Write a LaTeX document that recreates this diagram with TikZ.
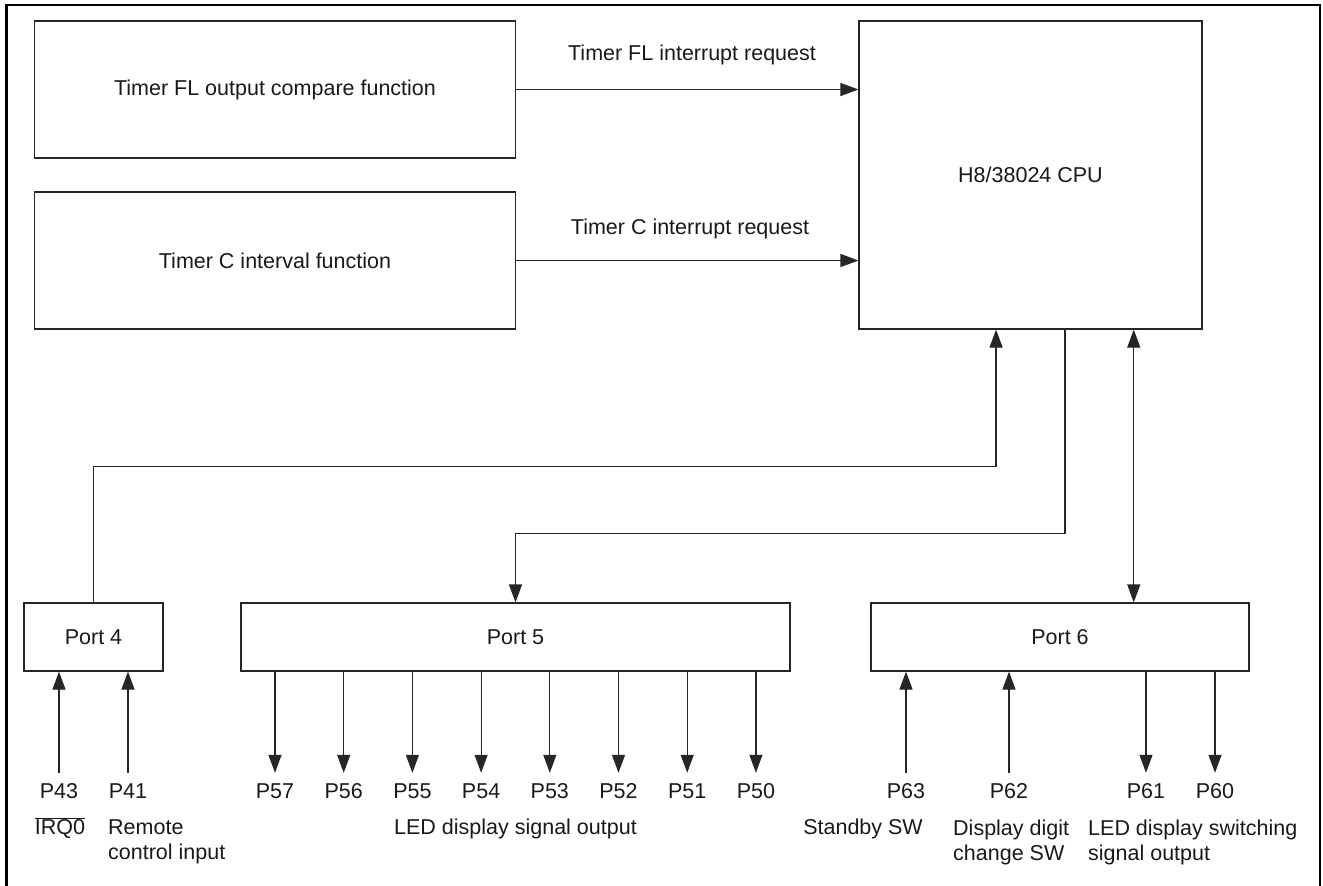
\documentclass[tikz,border=0pt]{standalone}
\usepackage{fontspec}
\setmainfont{Liberation Sans}
\usetikzlibrary{arrows.meta,calc}
\begin{document}
\begin{tikzpicture}[x=1pt,y=-1pt,
  font=\fontsize{21.5pt}{25pt}\selectfont,
  every node/.style={text=black!90},
  box/.style={draw=black!85, line width=1.2pt, rectangle, inner sep=0pt},
  wire/.style={draw=black!85, line width=1.2pt},
  arr/.style={wire, -{Triangle[length=18pt,width=13pt]}},
  dblarr/.style={wire, {Triangle[length=18pt,width=13pt]}-{Triangle[length=18pt,width=13pt]}},
  pin/.style={inner xsep=0pt, inner ysep=10.3pt, text height=15.4pt, text depth=0pt},
  note/.style={inner sep=0pt, align=left},
]
\useasboundingbox (0,0) rectangle (1323,886);

% outer frame, open at the bottom
\draw[line width=2.6pt, black] (6.5,886) -- (6.5,5) -- (1320,5) -- (1320,886);

% functional blocks
\node[box, minimum width=481pt, minimum height=137pt] (fl) at (275,89.5) {Timer FL output compare function};
\node[box, minimum width=481pt, minimum height=137pt] (tc) at (275,260.5) {Timer C interval function};
\node[box, minimum width=343pt, minimum height=308pt] (cpu) at (1030.5,175) {H8/38024 CPU};
\node[box, minimum width=139pt, minimum height=68pt] (p4) at (93.5,637) {Port 4};
\node[box, minimum width=549pt, minimum height=68pt] (p5) at (515.5,637) {Port 5};
\node[box, minimum width=378pt, minimum height=68pt] (p6) at (1060,637) {Port 6};

% interrupt requests
\draw[arr] (fl.east) -- (fl.east -| cpu.west);
\draw[arr] (tc.east) -- (tc.east -| cpu.west);
\node (flreq) at (692,55) {Timer FL interrupt request};
\node (tcreq) at (690,229) {Timer C interrupt request};

% CPU <-> ports
\coordinate (c4) at ($(cpu.south west)!0.4!(cpu.south east)$);
\coordinate (c5) at ($(cpu.south west)!0.6!(cpu.south east)$);
\coordinate (c6) at ($(cpu.south west)!0.8!(cpu.south east)$);
\draw[arr] (p4.north) |- ($(c4)+(0,137)$) -- (c4);
\draw[arr] (c5) |- ($(p5.north)+(0,-69)$) -- (p5.north);
\draw[dblarr] (c6) -- (c6 |- p6.north);

% port 4 pins
\node[pin] (P43) at (59,791) {P43};
\node[pin] (P41) at (128,791) {P41};
\draw[arr] (P43.north) -- (P43.north |- p4.south);
\draw[arr] (P41.north) -- (P41.north |- p4.south);

% port 5 pins
\foreach \n [count=\i from 0] in {57,56,55,54,53,52,51,50} {
  \node[pin] (P\n) at (275+68.7*\i,791) {P\n};
  \draw[arr] (p5.south -| P\n.north) -- (P\n.north);
}

% port 6 pins
\node[pin] (P63) at (906,791) {P63};
\node[pin] (P62) at (1009,791) {P62};
\node[pin] (P61) at (1146,791) {P61};
\node[pin] (P60) at (1215,791) {P60};
\draw[arr] (P63.north) -- (P63.north |- p6.south);
\draw[arr] (P62.north) -- (P62.north |- p6.south);
\draw[arr] (p6.south -| P61.north) -- (P61.north);
\draw[arr] (p6.south -| P60.north) -- (P60.north);

% pin descriptions
\node[inner sep=0pt, anchor=base] (irq) at (60,834.7) {$\overline{\hbox{IRQ0}}$};
\node[note, anchor=north west] (remote) at (108,819.3) {Remote\\control input};
\node[inner sep=0pt, anchor=base] (ledsig) at (515.5,834.7) {LED display signal output};
\node[inner sep=0pt, anchor=base east] (stby) at (923,834.7) {Standby SW};
\node[note, anchor=north west] (digit) at (953,819.3) {Display digit\\change SW};
\node[note, anchor=north west] (ledsw) at (1088,819.3) {LED display switching\\signal output};
\end{tikzpicture}
\end{document}
